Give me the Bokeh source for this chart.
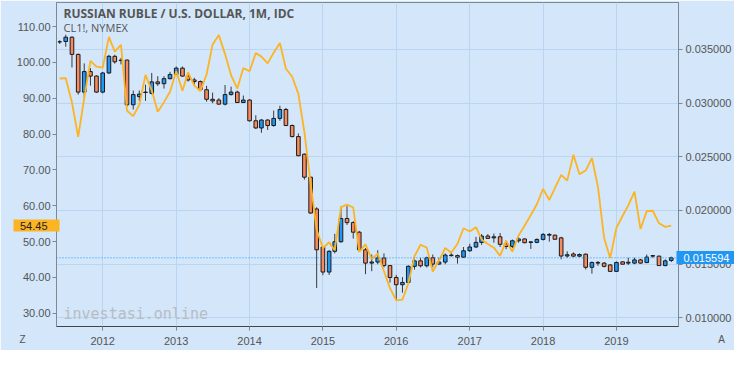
import pandas as pd
from bokeh.plotting import figure
from bokeh.models import (LinearAxis, Range1d, Span, Label, FixedTicker,
                          NumeralTickFormatter, DatetimeTickFormatter, ColumnDataSource)
from bokeh.embed import file_html
from bokeh.resources import INLINE

# ---- data -------------------------------------------------------------
start_month = "2011-06-01"
n_months = 101
year_ticks = ["2012", "2013", "2014", "2015", "2016", "2017", "2018", "2019"]

rub_open = [0.03570, 0.03573, 0.03613, 0.03453, 0.03102, 0.03293, 0.03251, 0.03102, 0.03280, 0.03435,
            0.03400, 0.03400, 0.02984, 0.03060, 0.03098, 0.03090, 0.03197, 0.03180, 0.03227, 0.03266,
            0.03325, 0.03251, 0.03215, 0.03200, 0.03124, 0.03035, 0.03028, 0.02990, 0.03079, 0.03102,
            0.03005, 0.03028, 0.02835, 0.02768, 0.02842, 0.02791, 0.02857, 0.02940, 0.02791, 0.02688,
            0.02524, 0.02310, 0.02014, 0.01660, 0.01427, 0.01620, 0.01709, 0.01925, 0.01887, 0.01798,
            0.01634, 0.01510, 0.01520, 0.01558, 0.01487, 0.01376, 0.01309, 0.01330, 0.01480, 0.01531,
            0.01485, 0.01560, 0.01501, 0.01520, 0.01585, 0.01580, 0.01565, 0.01625, 0.01660, 0.01703,
            0.01762, 0.01745, 0.01755, 0.01690, 0.01665, 0.01718, 0.01735, 0.01703, 0.01703, 0.01730,
            0.01777, 0.01770, 0.01745, 0.01576, 0.01595, 0.01575, 0.01593, 0.01471, 0.01516, 0.01510,
            0.01493, 0.01433, 0.01522, 0.01510, 0.01510, 0.01540, 0.01515, 0.01580, 0.01575, 0.01487,
            0.01535]
rub_high = [0.03585, 0.03636, 0.03620, 0.03460, 0.03369, 0.03325, 0.03258, 0.03290, 0.03449, 0.03449,
            0.03420, 0.03405, 0.03117, 0.03117, 0.03170, 0.03280, 0.03250, 0.03250, 0.03290, 0.03340,
            0.03340, 0.03266, 0.03235, 0.03210, 0.03160, 0.03097, 0.03045, 0.03168, 0.03153, 0.03115,
            0.03070, 0.03035, 0.02886, 0.02850, 0.02848, 0.02930, 0.02975, 0.02955, 0.02800, 0.02717,
            0.02530, 0.02315, 0.02030, 0.01670, 0.01630, 0.01783, 0.02035, 0.02040, 0.01900, 0.01810,
            0.01650, 0.01590, 0.01630, 0.01600, 0.01490, 0.01400, 0.01380, 0.01490, 0.01555, 0.01560,
            0.01570, 0.01590, 0.01560, 0.01600, 0.01620, 0.01590, 0.01660, 0.01690, 0.01754, 0.01780,
            0.01780, 0.01785, 0.01790, 0.01720, 0.01730, 0.01750, 0.01740, 0.01712, 0.01740, 0.01790,
            0.01790, 0.01775, 0.01755, 0.01620, 0.01610, 0.01600, 0.01600, 0.01525, 0.01530, 0.01520,
            0.01500, 0.01525, 0.01525, 0.01560, 0.01560, 0.01550, 0.01590, 0.01585, 0.01580, 0.01545,
            0.01570]
rub_low = [0.03550, 0.03524, 0.03331, 0.03079, 0.03049, 0.03162, 0.03095, 0.03090, 0.03270, 0.03366,
           0.03360, 0.02970, 0.02940, 0.03020, 0.03020, 0.03080, 0.03160, 0.03135, 0.03220, 0.03260,
           0.03245, 0.03200, 0.03165, 0.03120, 0.03013, 0.02999, 0.02985, 0.02978, 0.03070, 0.03000,
           0.03000, 0.02828, 0.02760, 0.02723, 0.02750, 0.02780, 0.02835, 0.02785, 0.02680, 0.02505,
           0.02287, 0.01970, 0.01279, 0.01398, 0.01400, 0.01600, 0.01700, 0.01865, 0.01738, 0.01614,
           0.01407, 0.01435, 0.01500, 0.01470, 0.01329, 0.01169, 0.01235, 0.01325, 0.01450, 0.01470,
           0.01470, 0.01470, 0.01495, 0.01500, 0.01570, 0.01505, 0.01560, 0.01615, 0.01650, 0.01680,
           0.01735, 0.01700, 0.01660, 0.01640, 0.01650, 0.01700, 0.01695, 0.01642, 0.01695, 0.01720,
           0.01710, 0.01728, 0.01546, 0.01560, 0.01565, 0.01565, 0.01451, 0.01412, 0.01485, 0.01470,
           0.01430, 0.01430, 0.01497, 0.01492, 0.01500, 0.01505, 0.01510, 0.01560, 0.01485, 0.01480,
           0.01520]
rub_close = [0.03570, 0.03613, 0.03453, 0.03102, 0.03293, 0.03251, 0.03102, 0.03280, 0.03435, 0.03384,
             0.03395, 0.02984, 0.03079, 0.03083, 0.03102, 0.03197, 0.03180, 0.03227, 0.03266, 0.03325,
             0.03251, 0.03215, 0.03200, 0.03124, 0.03035, 0.03020, 0.02990, 0.03079, 0.03102, 0.03005,
             0.03028, 0.02835, 0.02768, 0.02842, 0.02791, 0.02857, 0.02940, 0.02791, 0.02688, 0.02510,
             0.02310, 0.01976, 0.01634, 0.01427, 0.01620, 0.01709, 0.01925, 0.01887, 0.01798, 0.01634,
             0.01510, 0.01520, 0.01558, 0.01487, 0.01376, 0.01309, 0.01330, 0.01480, 0.01531, 0.01485,
             0.01560, 0.01501, 0.01520, 0.01585, 0.01580, 0.01565, 0.01625, 0.01660, 0.01703, 0.01762,
             0.01740, 0.01755, 0.01685, 0.01665, 0.01718, 0.01735, 0.01700, 0.01708, 0.01730, 0.01777,
             0.01770, 0.01732, 0.01576, 0.01588, 0.01575, 0.01590, 0.01471, 0.01516, 0.01510, 0.01480,
             0.01433, 0.01516, 0.01500, 0.01518, 0.01540, 0.01510, 0.01566, 0.01575, 0.01487, 0.01531,
             0.015594]

oil_close = [95.5, 95.6, 88.8, 79.2, 90.0, 100.4, 98.8, 98.5, 107.1, 103.0,
             104.9, 86.5, 85.0, 88.1, 96.5, 92.2, 86.2, 88.9, 91.8, 97.5,
             92.1, 97.2, 93.5, 92.0, 96.6, 105.0, 107.6, 102.3, 96.4, 92.7,
             98.4, 97.5, 102.6, 101.6, 99.7, 102.7, 105.4, 98.2, 96.0, 91.2,
             80.5, 66.2, 53.3, 48.2, 49.8, 47.6, 59.6, 60.3, 59.5, 47.1,
             49.2, 45.1, 46.6, 41.7, 37.0, 33.6, 33.8, 38.3, 45.9, 49.1,
             48.3, 41.6, 44.7, 48.2, 46.9, 49.4, 53.7, 52.8, 54.0, 50.6,
             49.3, 48.3, 46.0, 50.2, 47.2, 51.7, 54.4, 57.4, 60.4, 64.7,
             61.6, 64.9, 68.6, 67.0, 74.2, 68.8, 69.8, 73.3, 65.3, 50.9,
             45.4, 53.8, 57.2, 60.1, 63.9, 53.5, 58.5, 58.6, 55.1, 54.1,
             54.45]

oil_ticks = [30, 40, 50, 60, 70, 80, 90, 100, 110]
rub_ticks = [0.010, 0.015, 0.020, 0.025, 0.030, 0.035]
last_oil = 54.45
last_rub = 0.015594

# ---- styling ----------------------------------------------------------
BG = "#d3e6fa"
GRID = "#b9d5f1"
UP = "#2196f3"
DOWN = "#f98a5c"
OIL = "#fdb422"
TXT = "#555555"
AXIS = "#7f8790"
FONT = "Liberation Sans"

dates = pd.date_range(start_month, periods=n_months, freq="MS")
colors = [UP if c >= o else DOWN for o, c in zip(rub_open, rub_close)]
src = ColumnDataSource(dict(date=dates, open=rub_open, high=rub_high, low=rub_low,
                            close=rub_close, color=colors))
year_ms = [pd.Timestamp(y + "-01-01").value / 1e6 for y in year_ticks]

W, H = 734, 350
p = figure(width=W, height=H, x_axis_type="datetime", output_backend="svg",
           toolbar_location=None, y_axis_location="right",
           x_range=Range1d(pd.Timestamp("2011-05-16"), pd.Timestamp("2019-11-06")),
           y_range=Range1d(0.00920, 0.03936),
           min_border_left=0, min_border_right=0, min_border_top=2, min_border_bottom=24)
p.extra_y_ranges = {"oil": Range1d(26.3, 116.7)}

p.background_fill_color = BG
p.border_fill_color = BG
p.outline_line_color = AXIS
p.outline_line_width = 1

# grid
p.xgrid.grid_line_color = GRID
p.ygrid.grid_line_color = GRID
p.xgrid.ticker = FixedTicker(ticks=year_ms)
p.ygrid.ticker = FixedTicker(ticks=rub_ticks)

# right axis (RUB/USD)
ra = p.yaxis[0]
ra.ticker = FixedTicker(ticks=rub_ticks)
ra.formatter = NumeralTickFormatter(format="0.000000")

# left axis (oil)
la = LinearAxis(y_range_name="oil", ticker=FixedTicker(ticks=oil_ticks),
                formatter=NumeralTickFormatter(format="0.00"))
p.add_layout(la, "left")

# bottom axis
xa = p.xaxis[0]
xa.ticker = FixedTicker(ticks=year_ms)
xa.formatter = DatetimeTickFormatter(years="%Y", months="%Y", days="%Y")

for ax in (la, ra, xa):
    ax.axis_line_color = AXIS
    ax.major_tick_line_color = AXIS
    ax.major_tick_out = 4
    ax.major_tick_in = 0
    ax.minor_tick_line_color = None
    ax.major_label_text_color = TXT
    ax.major_label_text_font = FONT
    ax.major_label_text_font_size = "11px"
    ax.major_label_standoff = 3
la.major_label_standoff = 2
xa.axis_line_color = "#444444"
xa.major_label_standoff = 6

# last-value tags drawn by extra axes (tick as the coloured box)
oil_tag = LinearAxis(y_range_name="oil", ticker=FixedTicker(ticks=[last_oil]),
                     formatter=NumeralTickFormatter(format="0.00"))
oil_tag.axis_line_color = None
oil_tag.minor_tick_line_color = None
oil_tag.major_tick_out = 0
oil_tag.major_tick_in = 46
oil_tag.major_tick_line_color = OIL
oil_tag.major_tick_line_width = 12
oil_tag.major_label_standoff = -34
oil_tag.major_label_text_color = "#222222"
oil_tag.major_label_text_font = FONT
oil_tag.major_label_text_font_size = "11px"
p.add_layout(oil_tag, "left")

rub_tag = LinearAxis(ticker=FixedTicker(ticks=[last_rub]),
                     formatter=NumeralTickFormatter(format="0.000000"))
rub_tag.axis_line_color = None
rub_tag.minor_tick_line_color = None
rub_tag.major_tick_out = 0
rub_tag.major_tick_in = 58
rub_tag.major_tick_line_color = UP
rub_tag.major_tick_line_width = 13
rub_tag.major_label_standoff = -51
rub_tag.major_label_text_color = "white"
rub_tag.major_label_text_font = FONT
rub_tag.major_label_text_font_size = "11px"
p.add_layout(rub_tag, "right")

# corner marks in the time-axis strip (both held in the left side area)
p.add_layout(Label(x=715, y=-13, x_units="screen", y_units="screen", text="A",
                   text_color=TXT, text_font=FONT, text_font_size="10px",
                   text_align="center", text_baseline="middle"), "left")
p.add_layout(Label(x=22, y=-13, x_units="screen", y_units="screen", text="Z",
                   text_color=TXT, text_font=FONT, text_font_size="10px",
                   text_align="center", text_baseline="middle"), "left")

# candles
p.segment(x0="date", y0="low", x1="date", y1="high", source=src, color="#3a3a3a", line_width=1)
p.vbar(x="date", top="close", bottom="open", width=18 * 24 * 3600 * 1000, source=src,
       fill_color="color", line_color="#1a1a1a", line_width=1)

# oil line
p.line(dates, oil_close, y_range_name="oil", color=OIL, line_width=1.8)

# last price line
p.add_layout(Span(location=last_rub, dimension="width", line_color=UP,
                  line_dash="1 2", line_width=1))

# titles
p.add_layout(Label(x=7, y=313, x_units="screen", y_units="screen",
                   text="RUSSIAN RUBLE / U.S. DOLLAR, 1M, IDC", text_color=TXT,
                   text_font="Open Sans", text_font_size="12px", text_font_style="bold",
                   text_baseline="middle"))
p.add_layout(Label(x=7, y=299, x_units="screen", y_units="screen",
                   text="CL1!, NYMEX", text_color=TXT,
                   text_font="Open Sans", text_font_size="11px", text_baseline="middle"))
# watermark
p.add_layout(Label(x=7, y=13, x_units="screen", y_units="screen",
                   text="investasi.online", text_color="#b8bcc4",
                   text_font="DejaVu Sans Mono", text_font_size="15px", text_baseline="middle"))

open("out.html", "w").write(file_html(p, INLINE))
